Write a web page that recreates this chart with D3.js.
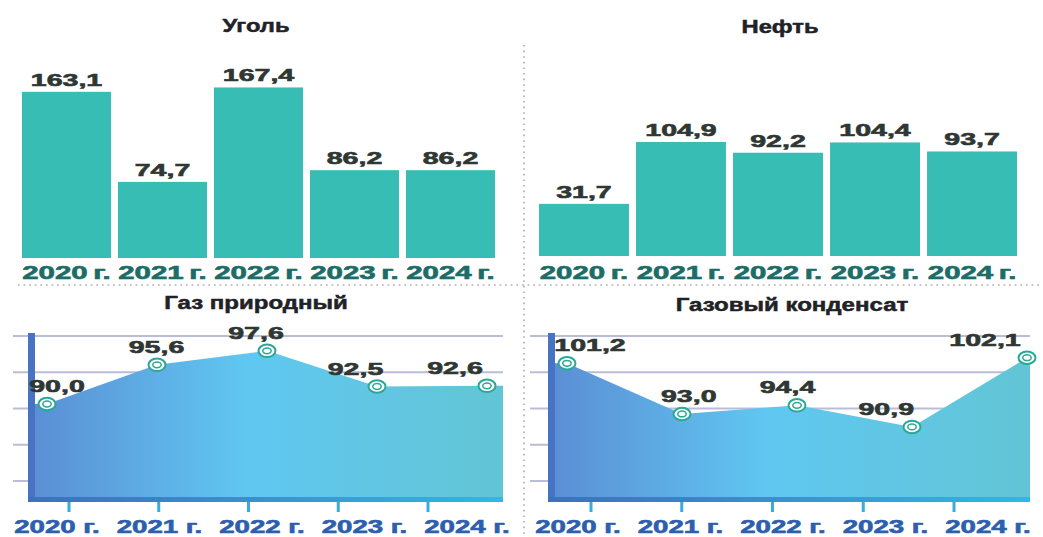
<!DOCTYPE html>
<html><head><meta charset="utf-8">
<script src="https://cdn.jsdelivr.net/npm/d3@7"></script>
<style>
html,body{margin:0;padding:0;background:#fff;}
svg{display:block;font-family:"Liberation Sans",Arial,sans-serif;font-weight:bold;}
</style></head>
<body>
<svg id="c" width="1043" height="537"></svg>
<script>
// ---- data ----
const years = ["2020 г.", "2021 г.", "2022 г.", "2023 г.", "2024 г."];
const coal = [163.1, 74.7, 167.4, 86.2, 86.2];
const oil = [31.7, 104.9, 92.2, 104.4, 93.7];
const gasNatural = [90.0, 95.6, 97.6, 92.5, 92.6];
const gasCondensate = [101.2, 93.0, 94.4, 90.9, 102.1];
const titles = ["Уголь", "Нефть", "Газ природный", "Газовый конденсат"];

// ---- rendering ----
const svg = d3.select("#c");
const fmt = v => d3.format(".1f")(v).replace(".", ",");
const BAR = "#37bdb4", VAL = "#2f3733", TOPX = "#1c6d68", BOTX = "#2d5fae", TITLE = "#1f2226";
const defs = svg.append("defs");

function stretchedText(g, x, y, txt, size, sx, color, sw) {
  return g.append("text")
    .attr("transform", `translate(${x},${y}) scale(${sx},1)`)
    .attr("text-anchor", "middle")
    .attr("font-size", size)
    .attr("fill", color)
    .attr("stroke", color).attr("stroke-width", sw == null ? 0.6 : sw)
    .text(txt);
}

// separators
svg.append("line").attr("x1", 18).attr("x2", 1040).attr("y1", 285).attr("y2", 285)
  .attr("stroke", "#a9acb0").attr("stroke-width", 1.6).attr("stroke-dasharray", "1.6,4");
svg.append("line").attr("x1", 524).attr("x2", 524).attr("y1", 45).attr("y2", 537)
  .attr("stroke", "#a9acb0").attr("stroke-width", 1.6).attr("stroke-dasharray", "1.6,4");

// titles
stretchedText(svg, 256, 32, titles[0], 19, 1.25, TITLE, 0.5);
stretchedText(svg, 780, 33, titles[1], 19, 1.25, TITLE, 0.5);
stretchedText(svg, 256, 309, titles[2], 18.5, 1.3, TITLE, 0.5);
stretchedText(svg, 792, 311, titles[3], 18.5, 1.3, TITLE, 0.5);

// ---- bar charts ----
function barChart(values, xr, yDomain, yRange, labelY) {
  const g = svg.append("g");
  const x = d3.scaleBand().domain(years).range(xr).paddingInner(0.073).paddingOuter(0);
  const y = d3.scaleLinear().domain(yDomain).range(yRange);
  g.selectAll("rect").data(values).join("rect")
    .attr("x", (d, i) => x(years[i])).attr("width", x.bandwidth())
    .attr("y", d => y(d)).attr("height", d => y(yDomain[0]) - y(d))
    .attr("fill", BAR);
  values.forEach((d, i) => {
    stretchedText(g, x(years[i]) + x.bandwidth() / 2, y(d) - 6, fmt(d), 16.8, 1.7, VAL);
    stretchedText(g, x(years[i]) + x.bandwidth() / 2, labelY, years[i], 17.5, 1.68, TOPX)
      .attr("word-spacing", -1.5);
  });
}
barChart(coal, [22, 495], [0, 180], [258, 74.6], 279);
barChart(oil, [539, 1017], [-30, 150], [256, 103.9], 279);

// ---- area charts ----
function areaChart(values, id, opt) {
  const g = svg.append("g");
  const x = d3.scalePoint().domain(years).range(opt.markerRange);
  const xl = d3.scalePoint().domain(years).range(opt.labelRange);
  const xt = d3.scalePoint().domain(years).range(opt.tickRange);
  const xy = d3.scalePoint().domain(years).range(opt.yearRange);
  const y = d3.scaleLinear().domain(opt.yDomain).range(opt.yRange);
  const grid = d3.scaleLinear().domain([0, 4]).range([336, 481]);
  // grid lines
  g.selectAll("line.grid").data(d3.range(5)).join("line").attr("class", "grid")
    .attr("x1", opt.gridX[0]).attr("x2", opt.gridX[1])
    .attr("y1", d => grid(d)).attr("y2", d => grid(d))
    .attr("stroke", "#b9bdd9").attr("stroke-width", 2);
  // gradient
  const gr = defs.append("linearGradient").attr("id", id).attr("x1", "0").attr("x2", "1").attr("y1", "0").attr("y2", "0");
  gr.append("stop").attr("offset", "0").attr("stop-color", "#5b8fd5");
  gr.append("stop").attr("offset", "0.45").attr("stop-color", "#60c7f1");
  gr.append("stop").attr("offset", "1").attr("stop-color", "#62c5d5");
  const bgr = defs.append("linearGradient").attr("id", id + "b").attr("x1", "0").attr("x2", "1").attr("y1", "0").attr("y2", "0");
  bgr.append("stop").attr("offset", "0").attr("stop-color", "#3f6ec0");
  bgr.append("stop").attr("offset", "1").attr("stop-color", "#2fb8e6");
  // area
  const pts = [{ x: opt.axisX + 7, v: values[0] }]
    .concat(values.map((v, i) => ({ x: x(years[i]), v })))
    .concat([{ x: opt.gridX[1], v: values[values.length - 1] }]);
  g.append("path").datum(pts)
    .attr("d", d3.area().x(d => d.x).y0(497).y1(d => y(d.v)))
    .attr("fill", `url(#${id})`);
  // axes
  g.append("rect").attr("x", opt.axisX).attr("y", 333).attr("width", 7).attr("height", 169).attr("fill", "#4673c2");
  g.append("rect").attr("x", opt.axisX).attr("y", 497).attr("width", opt.gridX[1] - opt.axisX).attr("height", 5).attr("fill", `url(#${id}b)`);
  g.selectAll("rect.tick").data(years).join("rect").attr("class", "tick")
    .attr("x", d => xt(d) - 1.5).attr("y", 502).attr("width", 3).attr("height", 10).attr("fill", "#35ade0");
  // markers
  values.forEach((v, i) => {
    const cx = x(years[i]), cy = y(v);
    g.append("ellipse").attr("cx", cx).attr("cy", cy).attr("rx", 8.5).attr("ry", 6.2)
      .attr("fill", "#fff").attr("stroke", "#2aa896").attr("stroke-width", 2);
    g.append("ellipse").attr("cx", cx).attr("cy", cy).attr("rx", 4.2).attr("ry", 2.9)
      .attr("fill", "#fff").attr("stroke", "#2aa896").attr("stroke-width", 1.5);
    stretchedText(g, xl(years[i]), cy - 12, fmt(v), 16.8, 1.7, VAL);
  });
  years.forEach(t => stretchedText(g, xy(t), 533, t, 17.5, 1.58, BOTX));
}
areaChart(gasNatural, "ga", {
  markerRange: [47, 487], labelRange: [57, 455], tickRange: [69, 428], yearRange: [57, 467],
  yDomain: [80, 100], yRange: [474, 334], gridX: [13, 503], axisX: 28
});
areaChart(gasCondensate, "gb", {
  markerRange: [567, 1027], labelRange: [590, 985], tickRange: [591, 954], yearRange: [578, 988],
  yDomain: [80, 105], yRange: [494.3, 339.8], gridX: [530, 1030], axisX: 548
});
</script>
</body></html>
